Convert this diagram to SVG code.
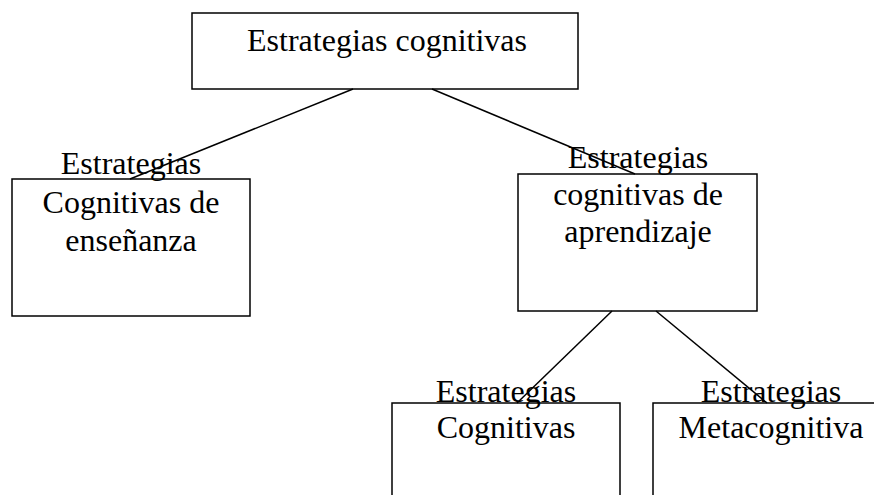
<svg xmlns="http://www.w3.org/2000/svg" width="874" height="495" viewBox="0 0 874 495">
<style>
.box{fill:#fff;stroke:#000;stroke-width:1.5}
.t{font-family:"Liberation Serif","Times New Roman",serif;font-size:32px;fill:#000;text-anchor:middle}
.c{stroke:#000;stroke-width:1.5;fill:none}
</style>
<rect width="874" height="495" fill="#fff"/>
<g id="n-root">
<rect class="box" x="192" y="13" width="386" height="76"/>
<text class="t" x="387" y="51">Estrategias cognitivas</text>
</g>
<g id="n-ensenanza">
<rect class="box" x="12" y="179" width="238" height="137"/>
<text class="t" x="131" y="174">Estrategias</text>
<text class="t" x="131" y="213">Cognitivas de</text>
<text class="t" x="131" y="251">enseñanza</text>
</g>
<g id="n-aprendizaje">
<rect class="box" x="518" y="174" width="239" height="137"/>
<text class="t" x="638" y="168">Estrategias</text>
<text class="t" x="638" y="205">cognitivas de</text>
<text class="t" x="638" y="242">aprendizaje</text>
</g>
<g id="n-cognitivas">
<rect class="box" x="392" y="403" width="228" height="100"/>
<text class="t" x="506" y="402">Estrategias</text>
<text class="t" x="506" y="438">Cognitivas</text>
</g>
<g id="n-metacognitiva">
<rect class="box" x="653" y="403" width="240" height="100"/>
<text class="t" x="771" y="402">Estrategias</text>
<text class="t" x="771" y="438">Metacognitiva</text>
</g>
<g id="connectors">
<line class="c" x1="353" y1="89" x2="130" y2="179"/>
<line class="c" x1="432" y1="89" x2="635" y2="174"/>
<line class="c" x1="612" y1="311" x2="517" y2="403"/>
<line class="c" x1="656" y1="311" x2="767" y2="403"/>
</g>
</svg>
